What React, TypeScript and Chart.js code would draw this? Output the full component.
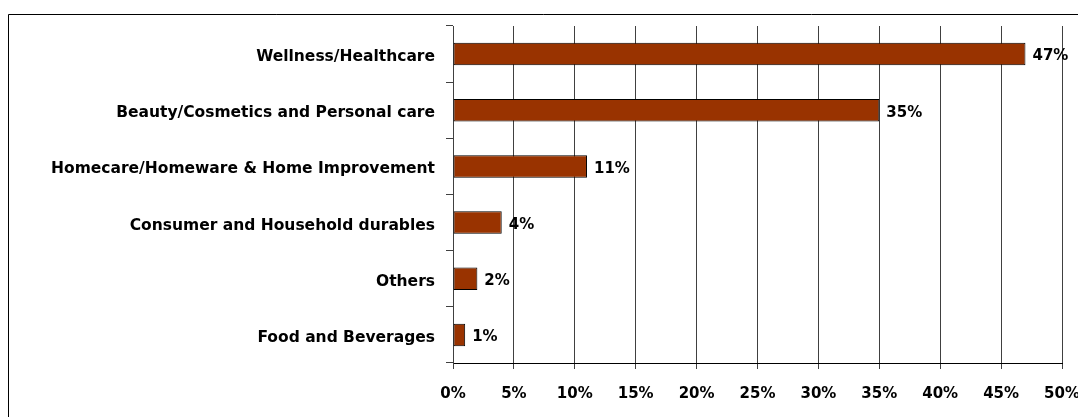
import React, { useEffect, useRef } from "react";
import { Chart, registerables } from "chart.js";

Chart.register(...registerables);

const categories = [
  "Wellness/Healthcare",
  "Beauty/Cosmetics and Personal care",
  "Homecare/Homeware & Home Improvement",
  "Consumer and Household durables",
  "Others",
  "Food and Beverages",
];
const shares = [47, 35, 11, 4, 2, 1];
const tickValues = [0, 5, 10, 15, 20, 25, 30, 35, 40, 45, 50];

const FONT = "'DejaVu Sans', Verdana, sans-serif";

const framePlugin = {
  id: "frame",
  afterDraw(chart: any) {
    const ctx = chart.ctx;
    ctx.save();
    ctx.strokeStyle = "#000";
    ctx.lineWidth = 1;
    ctx.beginPath();
    ctx.moveTo(8.5, 2000);
    ctx.lineTo(8.5, 14.5);
    ctx.lineTo(2000, 14.5);
    ctx.stroke();
    ctx.restore();
  },
};

const labelPlugin = {
  id: "valueLabels",
  afterDatasetsDraw(chart: any) {
    const ctx = chart.ctx;
    const meta = chart.getDatasetMeta(0);
    ctx.save();
    ctx.font = `bold 15px ${FONT}`;
    ctx.fillStyle = "#000";
    ctx.textAlign = "left";
    ctx.textBaseline = "middle";
    meta.data.forEach((bar: any, i: number) => {
      ctx.fillText(`${shares[i]}%`, bar.x + 7, bar.y + 2.5);
    });
    ctx.restore();
  },
};

export default function App() {
  const ref = useRef<HTMLCanvasElement | null>(null);
  useEffect(() => {
    if (!ref.current) return;
    const chart = new Chart(ref.current, {
      type: "bar",
      data: {
        labels: categories,
        datasets: [
          {
            data: shares,
            backgroundColor: "#993300",
            borderColor: "#000000",
            borderWidth: 1,
            borderSkipped: false,
            categoryPercentage: 1,
            barPercentage: 0.4,
          },
        ],
      },
      options: {
        indexAxis: "y",
        animation: false,
        responsive: false,
        events: [],
        layout: { padding: { left: 0, right: 16, top: 26, bottom: 0 } },
        plugins: {
          legend: { display: false },
          tooltip: { enabled: false },
        },
        scales: {
          x: {
            type: "linear",
            min: 0,
            max: 50,
            afterBuildTicks(scale: any) {
              scale.ticks = tickValues.map((v) => ({ value: v }));
            },
            afterFit(scale: any) {
              scale.paddingLeft = 0;
              scale.paddingRight = 0;
              scale.height = 54;
            },
            border: { display: true, color: "#000", width: 1 },
            grid: {
              color: "#404040",
              lineWidth: 1,
              drawTicks: true,
              tickLength: 6,
              tickColor: "#404040",
            },
            ticks: {
              color: "#000",
              padding: 16,
              maxRotation: 0,
              autoSkip: false,
              font: { family: FONT, size: 15, weight: "bold" },
              callback: (v: any) => `${v}%`,
            },
          },
          y: {
            afterFit(scale: any) {
              scale.width = 453;
              scale.paddingTop = 0;
              scale.paddingBottom = 0;
            },
            border: { display: true, color: "#404040", width: 1 },
            grid: {
              offset: true,
              drawOnChartArea: false,
              drawTicks: true,
              tickLength: 7,
              tickColor: "#404040",
            },
            ticks: {
              color: "#000",
              padding: 11,
              labelOffset: 3,
              autoSkip: false,
              font: { family: FONT, size: 15.5, weight: "bold" },
            },
          },
        },
      },
      plugins: [framePlugin, labelPlugin],
    } as any);
    return () => chart.destroy();
  }, []);

  return (
    <div style={{ position: "fixed", left: 0, top: 0, width: 1078, height: 417, overflow: "hidden", background: "#fff" }}>
      <canvas ref={ref} width={1078} height={417} style={{ display: "block", width: 1078, height: 417 }} />
    </div>
  );
}
